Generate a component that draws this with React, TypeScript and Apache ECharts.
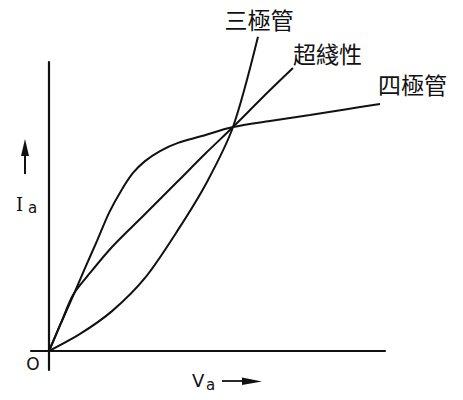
import React, { useEffect, useRef } from "react";
import * as echarts from "echarts";

// Plate voltage (Va) and plate current (Ia), arbitrary units
const triodeV = [0, 9.23, 18.75, 28.57, 38.39, 47.02, 54.76, 62.2];
const triodeI = [0, 5.9, 13.8, 25.3, 41.9, 58.5, 77.5, 108.7];

const ultraV = [0, 3.57, 7.14, 12.2, 18.75, 28.6, 38.4, 46.7, 54.76, 63.7, 72.6];
const ultraI = [0, 9.7, 19.4, 27.0, 36.0, 47.4, 58.8, 68.5, 77.5, 87.9, 97.9];

const tetrodeV = [0, 3.57, 7.14, 10.71, 14.29, 17.86, 21.43, 25.0, 28.57, 33.04, 38.39, 44.94, 54.76, 65.77, 77.68, 88.1, 98.51];
const tetrodeI = [0, 9.7, 19.0, 28.7, 38.1, 47.8, 55.4, 61.6, 65.7, 69.2, 72.0, 74.2, 77.5, 79.6, 81.7, 83.6, 85.5];

const curveNames = ["三極管", "超綫性", "四極管"];
const xRange = [-5.36, 100];
const yRange = [-6.57, 100];

export default function App() {
  const ref = useRef<HTMLDivElement>(null);
  useEffect(() => {
    const chart = echarts.init(ref.current!, null, { renderer: "svg" });
    const pair = (v: number[], i: number[]) => v.map((x, k) => [x, i[k]]);
    const ink = "#111";
    const mk = (name: string, v: number[], i: number[]) => ({
      type: "line",
      name,
      data: pair(v, i),
      smooth: 0.3,
      symbol: "none",
      showSymbol: false,
      clip: false,
      silent: true,
      lineStyle: { color: ink, width: 2 },
    });
    const axisCommon = {
      type: "value",
      axisLine: { show: true, onZero: true, lineStyle: { color: ink, width: 2.2 } },
      axisTick: { show: false },
      axisLabel: { show: false },
      splitLine: { show: false },
    };
    const cjk = '"Noto Sans CJK TC", "Noto Sans CJK SC", sans-serif';
    chart.setOption({
      animation: false,
      grid: { left: 31, right: 78, top: 62, bottom: 30 },
      xAxis: { ...axisCommon, min: xRange[0], max: xRange[1] },
      yAxis: { ...axisCommon, min: yRange[0], max: yRange[1] },
      series: [
        mk(curveNames[0], triodeV, triodeI),
        mk(curveNames[1], ultraV, ultraI),
        mk(curveNames[2], tetrodeV, tetrodeI),
      ],
      graphic: [
        { type: "text", x: 259, y: 19, style: { text: curveNames[0], fontSize: 23, fontFamily: cjk, fill: ink, align: "center", verticalAlign: "middle" } },
        { type: "text", x: 293, y: 53, style: { text: curveNames[1], fontSize: 23, fontFamily: cjk, fill: ink, align: "left", verticalAlign: "middle" } },
        { type: "text", x: 378, y: 84, style: { text: curveNames[2], fontSize: 23, fontFamily: cjk, fill: ink, align: "left", verticalAlign: "middle" } },
        // Ia label and arrow
        { type: "line", shape: { x1: 25, y1: 174, x2: 25, y2: 152 }, style: { stroke: ink, lineWidth: 2 } },
        { type: "polygon", shape: { points: [[21, 156], [29, 156], [25, 139]] }, style: { fill: ink } },
        { type: "text", x: 16, y: 204, style: { text: "I", fontSize: 18, fontFamily: "DejaVu Serif", fill: ink, align: "left", verticalAlign: "middle" } },
        { type: "text", x: 28, y: 208, style: { text: "a", fontSize: 15, fontFamily: "DejaVu Sans", fill: ink, align: "left", verticalAlign: "middle" } },
        // origin
        { type: "text", x: 33, y: 364, style: { text: "O", fontSize: 17, fontFamily: "DejaVu Sans", fill: ink, align: "center", verticalAlign: "middle" } },
        // Va label and arrow
        { type: "text", x: 192, y: 380, style: { text: "V", fontSize: 18, fontFamily: "DejaVu Sans", fill: ink, align: "left", verticalAlign: "middle" } },
        { type: "text", x: 206, y: 385, style: { text: "a", fontSize: 15, fontFamily: "DejaVu Sans", fill: ink, align: "left", verticalAlign: "middle" } },
        { type: "line", shape: { x1: 222, y1: 381, x2: 248, y2: 381 }, style: { stroke: ink, lineWidth: 1.8 } },
        { type: "polygon", shape: { points: [[242, 377.5], [262, 381.5], [242, 385]] }, style: { fill: ink } },
      ],
    });
    return () => chart.dispose();
  }, []);
  return (
    <div
      ref={ref}
      style={{ position: "fixed", left: 0, top: 0, width: 463, height: 400, background: "#fff" }}
    />
  );
}
